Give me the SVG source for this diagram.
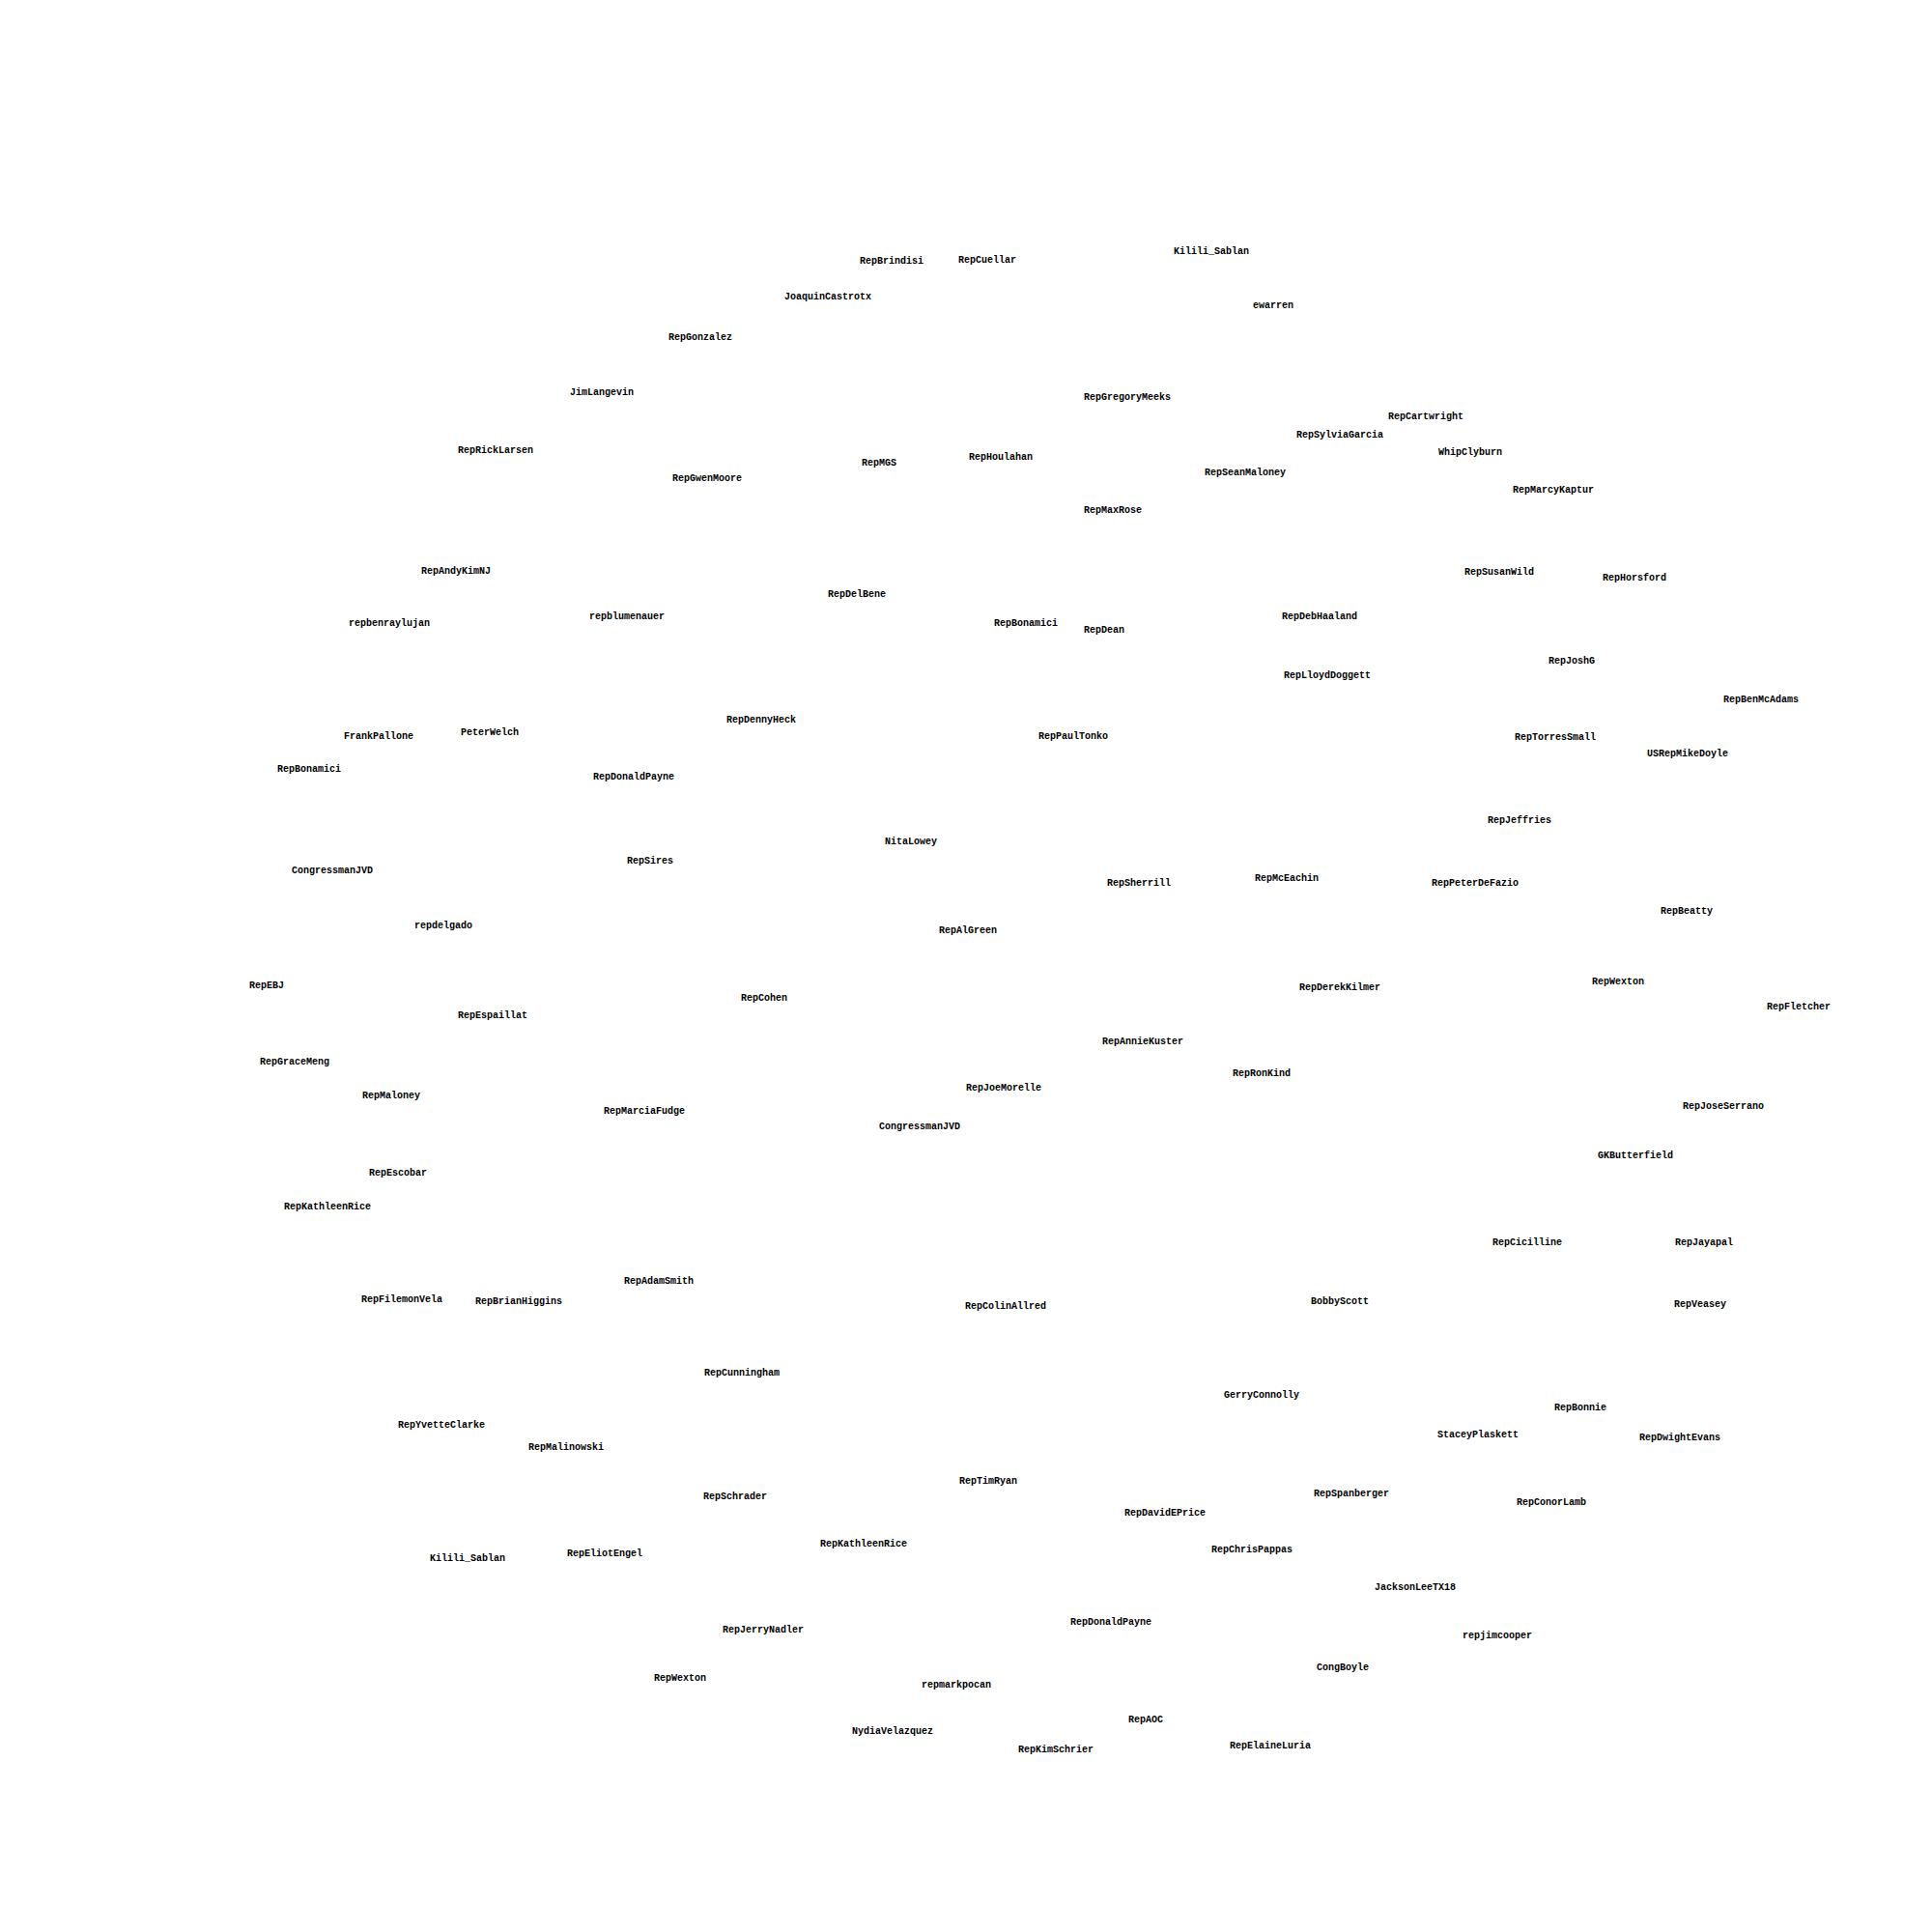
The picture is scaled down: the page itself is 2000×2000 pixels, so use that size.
<svg xmlns="http://www.w3.org/2000/svg" width="2000" height="2000" viewBox="0 0 2000 2000">
<style>
text{font-family:"Liberation Mono","DejaVu Sans Mono",monospace;font-weight:bold;font-size:10px;fill:#000}
</style>
<rect width="2000" height="2000" fill="#fff"/>
<g id="connectors"></g>
<g id="nodes">
<g id="n1"><text x="890" y="273">RepBrindisi</text></g>
<g id="n2"><text x="992" y="272">RepCuellar</text></g>
<g id="n3"><text x="1215" y="263">Kilili_Sablan</text></g>
<g id="n4"><text x="812" y="310">JoaquinCastrotx</text></g>
<g id="n5"><text x="1297" y="319">ewarren</text></g>
<g id="n6"><text x="692" y="352">RepGonzalez</text></g>
<g id="n7"><text x="590" y="409">JimLangevin</text></g>
<g id="n8"><text x="1122" y="414">RepGregoryMeeks</text></g>
<g id="n9"><text x="1437" y="434">RepCartwright</text></g>
<g id="n10"><text x="1342" y="453">RepSylviaGarcia</text></g>
<g id="n11"><text x="474" y="469">RepRickLarsen</text></g>
<g id="n12"><text x="1489" y="471">WhipClyburn</text></g>
<g id="n13"><text x="892" y="482">RepMGS</text></g>
<g id="n14"><text x="1003" y="476">RepHoulahan</text></g>
<g id="n15"><text x="1247" y="492">RepSeanMaloney</text></g>
<g id="n16"><text x="696" y="498">RepGwenMoore</text></g>
<g id="n17"><text x="1566" y="510">RepMarcyKaptur</text></g>
<g id="n18"><text x="1122" y="531">RepMaxRose</text></g>
<g id="n19"><text x="436" y="594">RepAndyKimNJ</text></g>
<g id="n20"><text x="1516" y="595">RepSusanWild</text></g>
<g id="n21"><text x="1659" y="601">RepHorsford</text></g>
<g id="n22"><text x="857" y="618">RepDelBene</text></g>
<g id="n23"><text x="610" y="641">repblumenauer</text></g>
<g id="n24"><text x="1327" y="641">RepDebHaaland</text></g>
<g id="n25"><text x="361" y="648">repbenraylujan</text></g>
<g id="n26"><text x="1029" y="648">RepBonamici</text></g>
<g id="n27"><text x="1122" y="655">RepDean</text></g>
<g id="n28"><text x="1603" y="687">RepJoshG</text></g>
<g id="n29"><text x="1329" y="702">RepLloydDoggett</text></g>
<g id="n30"><text x="1784" y="727">RepBenMcAdams</text></g>
<g id="n31"><text x="752" y="748">RepDennyHeck</text></g>
<g id="n32"><text x="356" y="765">FrankPallone</text></g>
<g id="n33"><text x="477" y="761">PeterWelch</text></g>
<g id="n34"><text x="1075" y="765">RepPaulTonko</text></g>
<g id="n35"><text x="1568" y="766">RepTorresSmall</text></g>
<g id="n36"><text x="1705" y="783">USRepMikeDoyle</text></g>
<g id="n37"><text x="287" y="799">RepBonamici</text></g>
<g id="n38"><text x="614" y="807">RepDonaldPayne</text></g>
<g id="n39"><text x="1540" y="852">RepJeffries</text></g>
<g id="n40"><text x="916" y="874">NitaLowey</text></g>
<g id="n41"><text x="649" y="894">RepSires</text></g>
<g id="n42"><text x="302" y="904">CongressmanJVD</text></g>
<g id="n43"><text x="1299" y="912">RepMcEachin</text></g>
<g id="n44"><text x="1146" y="917">RepSherrill</text></g>
<g id="n45"><text x="1482" y="917">RepPeterDeFazio</text></g>
<g id="n46"><text x="1719" y="946">RepBeatty</text></g>
<g id="n47"><text x="429" y="961">repdelgado</text></g>
<g id="n48"><text x="972" y="966">RepAlGreen</text></g>
<g id="n49"><text x="1648" y="1019">RepWexton</text></g>
<g id="n50"><text x="258" y="1023">RepEBJ</text></g>
<g id="n51"><text x="1345" y="1025">RepDerekKilmer</text></g>
<g id="n52"><text x="767" y="1036">RepCohen</text></g>
<g id="n53"><text x="1829" y="1045">RepFletcher</text></g>
<g id="n54"><text x="474" y="1054">RepEspaillat</text></g>
<g id="n55"><text x="1141" y="1081">RepAnnieKuster</text></g>
<g id="n56"><text x="269" y="1102">RepGraceMeng</text></g>
<g id="n57"><text x="1276" y="1114">RepRonKind</text></g>
<g id="n58"><text x="1000" y="1129">RepJoeMorelle</text></g>
<g id="n59"><text x="375" y="1137">RepMaloney</text></g>
<g id="n60"><text x="1742" y="1148">RepJoseSerrano</text></g>
<g id="n61"><text x="625" y="1153">RepMarciaFudge</text></g>
<g id="n62"><text x="910" y="1169">CongressmanJVD</text></g>
<g id="n63"><text x="1654" y="1199">GKButterfield</text></g>
<g id="n64"><text x="382" y="1217">RepEscobar</text></g>
<g id="n65"><text x="294" y="1252">RepKathleenRice</text></g>
<g id="n66"><text x="1545" y="1289">RepCicilline</text></g>
<g id="n67"><text x="1734" y="1289">RepJayapal</text></g>
<g id="n68"><text x="646" y="1329">RepAdamSmith</text></g>
<g id="n69"><text x="374" y="1348">RepFilemonVela</text></g>
<g id="n70"><text x="492" y="1350">RepBrianHiggins</text></g>
<g id="n71"><text x="1357" y="1350">BobbyScott</text></g>
<g id="n72"><text x="999" y="1355">RepColinAllred</text></g>
<g id="n73"><text x="1733" y="1353">RepVeasey</text></g>
<g id="n74"><text x="729" y="1424">RepCunningham</text></g>
<g id="n75"><text x="1267" y="1447">GerryConnolly</text></g>
<g id="n76"><text x="1609" y="1460">RepBonnie</text></g>
<g id="n77"><text x="412" y="1478">RepYvetteClarke</text></g>
<g id="n78"><text x="1488" y="1488">StaceyPlaskett</text></g>
<g id="n79"><text x="1697" y="1491">RepDwightEvans</text></g>
<g id="n80"><text x="547" y="1501">RepMalinowski</text></g>
<g id="n81"><text x="993" y="1536">RepTimRyan</text></g>
<g id="n82"><text x="1360" y="1549">RepSpanberger</text></g>
<g id="n83"><text x="728" y="1552">RepSchrader</text></g>
<g id="n84"><text x="1570" y="1558">RepConorLamb</text></g>
<g id="n85"><text x="1164" y="1569">RepDavidEPrice</text></g>
<g id="n86"><text x="849" y="1601">RepKathleenRice</text></g>
<g id="n87"><text x="1254" y="1607">RepChrisPappas</text></g>
<g id="n88"><text x="587" y="1611">RepEliotEngel</text></g>
<g id="n89"><text x="445" y="1616">Kilili_Sablan</text></g>
<g id="n90"><text x="1423" y="1646">JacksonLeeTX18</text></g>
<g id="n91"><text x="1108" y="1682">RepDonaldPayne</text></g>
<g id="n92"><text x="748" y="1690">RepJerryNadler</text></g>
<g id="n93"><text x="1514" y="1696">repjimcooper</text></g>
<g id="n94"><text x="1363" y="1729">CongBoyle</text></g>
<g id="n95"><text x="677" y="1740">RepWexton</text></g>
<g id="n96"><text x="954" y="1747">repmarkpocan</text></g>
<g id="n97"><text x="1168" y="1783">RepAOC</text></g>
<g id="n98"><text x="882" y="1795">NydiaVelazquez</text></g>
<g id="n99"><text x="1273" y="1810">RepElaineLuria</text></g>
<g id="n100"><text x="1054" y="1814">RepKimSchrier</text></g>
</g>
</svg>
